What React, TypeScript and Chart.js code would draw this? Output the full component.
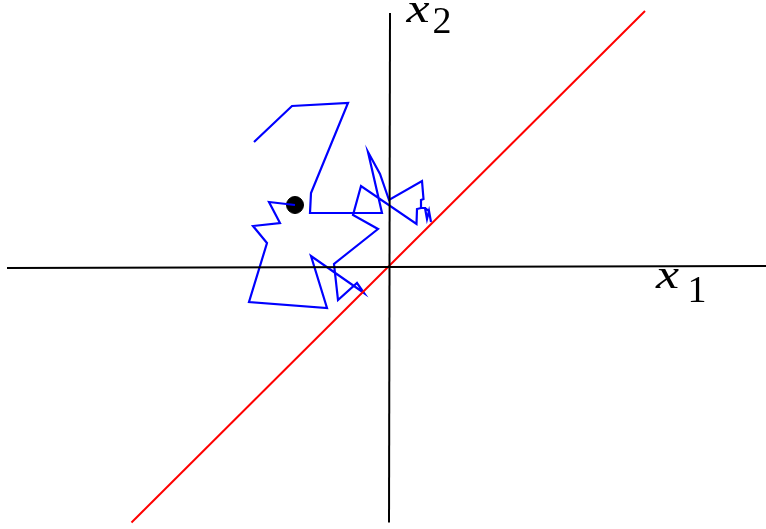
import React, { useEffect, useRef } from "react";
import { Chart, registerables } from "chart.js";

Chart.register(...registerables);

// Random-walk trajectory (starts at the black dot)
const walkX = [-0.94, -1.2, -1.09, -1.36, -1.22, -1.4, -0.62, -0.78, -0.25, -0.32, -0.51, -0.55, -0.11, -0.36, -0.28, 0.275, 0.28, 0.32, 0.36, 0.38, 0.4, 0.42, 0.4, 0.36, 0.32, 0.32, 0.345, 0.33, 0.0, -0.09, -0.21, -0.07, -0.79, -0.78, -0.41, -0.97, -1.35];
const walkY = [0.63, 0.66, 0.45, 0.42, 0.25, -0.34, -0.4, 0.12, -0.25, -0.15, -0.32, 0.04, 0.39, 0.53, 0.82, 0.44, 0.59, 0.6, 0.6, 0.49, 0.57, 0.46, 0.57, 0.6, 0.6, 0.68, 0.69, 0.87, 0.68, 0.94, 1.16, 0.55, 0.55, 0.75, 1.65, 1.62, 1.26];

// Starting point
const startX = [-0.94];
const startY = [0.63];

// Red line (x2 = x1)
const redX = [-2.575, 2.56];
const redY = [-2.545, 2.57];

// Coordinate axes
const axis1X = [-3.82, 3.77];
const axis1Y = [0.0, 0.02];
const axis2X = [0.01, 0.0];
const axis2Y = [2.55, -2.545];

// Axis labels
const labelMain = ["x", "x"];
const labelSub = ["1", "2"];

const toPts = (xs: number[], ys: number[]) => xs.map((x, i) => ({ x, y: ys[i] }));

const labelPlugin = {
  id: "axisLabels",
  afterDatasetsDraw(chart: any) {
    const { ctx, scales } = chart;
    const sx = scales.x;
    const sy = scales.y;
    const draw = (main: string, sub: string, mx: number, my: number, bx: number, by: number) => {
      ctx.save();
      ctx.fillStyle = "#000";
      ctx.textAlign = "left";
      ctx.textBaseline = "alphabetic";
      ctx.font = 'italic 40px "Liberation Serif"';
      ctx.translate(sx.getPixelForValue(mx), sy.getPixelForValue(my));
      ctx.scale(1.3, 1);
      ctx.fillText(main, 0, 0);
      ctx.restore();
      ctx.save();
      ctx.fillStyle = "#000";
      ctx.textAlign = "left";
      ctx.textBaseline = "alphabetic";
      ctx.font = '38px "Liberation Serif"';
      ctx.fillText(sub, sx.getPixelForValue(bx), sy.getPixelForValue(by));
      ctx.restore();
    };
    draw(labelMain[0], labelSub[0], 2.67, -0.2, 2.985, -0.34);
    draw(labelMain[1], labelSub[1], 0.175, 2.46, 0.435, 2.35);
  },
};

export default function App() {
  const ref = useRef<HTMLCanvasElement | null>(null);
  useEffect(() => {
    document.body.style.margin = "0";
    if (!ref.current) return;
    const lineDs = (data: any, color: string, width: number) => ({
      data,
      showLine: true,
      borderColor: color,
      backgroundColor: color,
      borderWidth: width,
      pointRadius: 0,
      pointHoverRadius: 0,
      tension: 0,
      fill: false,
    });
    const chart = new Chart(ref.current, {
      type: "scatter",
      data: {
        datasets: [
          lineDs(toPts(axis1X, axis1Y), "#000000", 2),
          lineDs(toPts(axis2X, axis2Y), "#000000", 2),
          lineDs(toPts(redX, redY), "#ff0000", 2),
          lineDs(toPts(walkX, walkY), "#0000ff", 2.2),
          {
            data: toPts(startX, startY),
            showLine: false,
            pointRadius: 8.5,
            borderWidth: 1,
            borderColor: "#000000",
            backgroundColor: "#000000",
          },
        ],
      },
      options: {
        animation: false,
        responsive: false,
        maintainAspectRatio: false,
        layout: { padding: 0, autoPadding: false },
        plugins: { legend: { display: false }, tooltip: { enabled: false }, title: { display: false } },
        events: [],
        scales: {
          x: { type: "linear", min: -3.89, max: 3.77, display: false },
          y: { type: "linear", min: -2.61, max: 2.68, display: false },
        },
      },
      plugins: [labelPlugin],
    });
    return () => chart.destroy();
  }, []);
  return (
    <div style={{ position: "fixed", left: 0, top: 0, width: 766, height: 529, background: "#fff" }}>
      <canvas ref={ref} width={766} height={529} />
    </div>
  );
}
